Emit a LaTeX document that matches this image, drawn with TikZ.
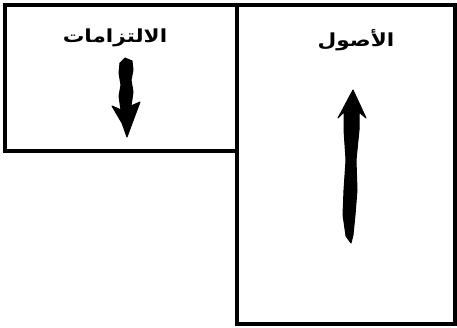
\documentclass[tikz,border=0pt]{standalone}
\usepackage{fontspec}
\TeXXeTstate=1
\newfontfamily\arabicfont[Script=Arabic]{DejaVu Sans}
\begin{document}
\begin{tikzpicture}[x=1pt,y=-1pt,
  panel/.style={draw=black,line width=4pt,line join=miter},
  label/.style={font=\arabicfont\bfseries\fontsize{18}{21}\selectfont,inner sep=0pt,xscale=1.2},
  arrowfill/.style={fill=black,draw=black,line width=1pt,line join=round}]
\useasboundingbox (0,0) rectangle (457,328);
\draw[panel] (5,5) rectangle (237,151);
\draw[panel] (237,5) rectangle (455,324);
\node[label] (liab) at (115,38) {\beginR الالتزامات\endR};
\node[label] (assets) at (356,40) {\beginR الأصول\endR};
% down arrow (liabilities)
\filldraw[arrowfill] (120,63) -- (125,58) -- (132,61) -- (133,70) -- (131,80) -- (133,92) -- (131,106) -- (140,102) -- (134,118) -- (127,137) -- (122,123) -- (112,106) -- (121,110) -- (119,96) -- (121,85) -- (119,73) -- cycle;
% up arrow (assets)
\filldraw[arrowfill] (353,90) -- (366,118) -- (359,112) -- (359,130) -- (356,160) -- (357,190) -- (355,215) -- (353,235) -- (351,243) -- (346,236) -- (343,215) -- (344,190) -- (346,160) -- (344,130) -- (344,112) -- (338,118) -- cycle;
\end{tikzpicture}
\end{document}
